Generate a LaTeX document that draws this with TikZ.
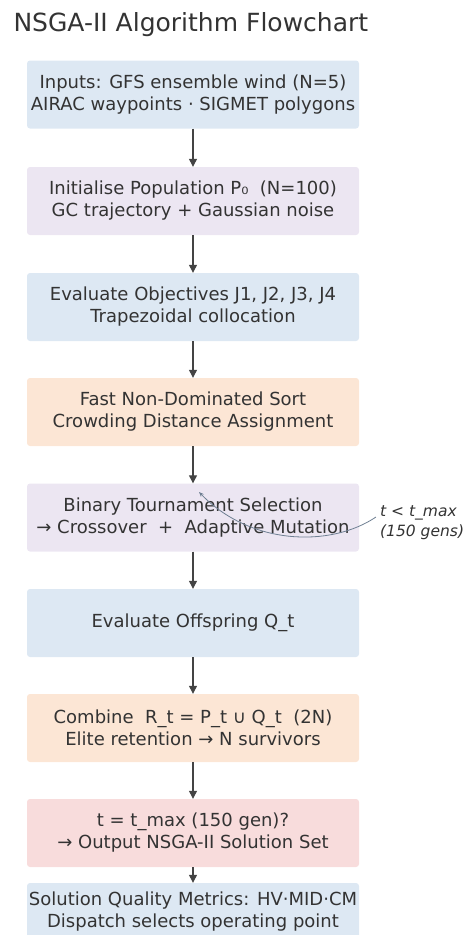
\documentclass[tikz,border=0pt]{standalone}
\usepackage{fontspec}
\setmainfont{DejaVu Sans}
\usetikzlibrary{arrows.meta}
\definecolor{txt}{HTML}{333333}
\definecolor{arr}{HTML}{444444}
\definecolor{fblue}{HTML}{DDE8F3}
\definecolor{flav}{HTML}{ECE6F2}
\definecolor{fpeach}{HTML}{FCE6D5}
\definecolor{fpink}{HTML}{F8DCDC}
\definecolor{loopc}{HTML}{6E7F92}
\tikzset{
  stepbox/.style={rounded corners=3pt, minimum width=332pt, minimum height=68pt,
    align=center, text=txt, font=\fontsize{18}{22}\selectfont, inner sep=0pt},
  flow/.style={draw=arr, line width=1.2pt, -{Triangle[length=8pt,width=8pt]}},
}
\begin{document}
\begin{tikzpicture}[x=1pt,y=-1pt]
\useasboundingbox (0,0) rectangle (471,935);
\node[anchor=west, text=txt, font=\fontsize{25}{30}\selectfont] (title) at (10,25) {NSGA-II Algorithm Flowchart};

\node[stepbox, fill=fblue]  (b1) at (193,94.5) {Inputs: GFS ensemble wind (N=5)\\AIRAC waypoints · SIGMET polygons};
\node[stepbox, fill=flav]   (b2) at (193,201) {Initialise Population P₀ \ (N=100)\\GC trajectory + Gaussian noise};
\node[stepbox, fill=fblue]  (b3) at (193,307) {Evaluate Objectives J1, J2, J3, J4\\Trapezoidal collocation};
\node[stepbox, fill=fpeach] (b4) at (193,412) {Fast Non-Dominated Sort\\Crowding Distance Assignment};
\node[stepbox, fill=flav]   (b5) at (193,517.5) {Binary Tournament Selection\\→ Crossover \ + \ Adaptive Mutation};
\node[stepbox, fill=fblue]  (b6) at (193,623) {Evaluate Offspring Q\_t};
\node[stepbox, fill=fpeach] (b7) at (193,728) {Combine \ R\_t = P\_t ∪ Q\_t \ (2N)\\Elite retention → N survivors};
\node[stepbox, fill=fpink]  (b8) at (193,833) {t = t\_max (150 gen)?\\→ Output NSGA-II Solution Set};
\node[stepbox, fill=fblue, minimum height=58pt] (b9) at (193,912) {Solution Quality Metrics: HV·MID·CM\\Dispatch selects operating point};

\foreach \a/\b in {b1/b2,b2/b3,b3/b4,b4/b5,b5/b6,b6/b7,b7/b8,b8/b9}
  \draw[flow] (\a.south) -- (\b.north);

% loop back while generations remain
\node[anchor=west, text=txt, align=left, font=\fontsize{15.5}{20}\selectfont\itshape, inner sep=0pt] (cond) at (380,523) {t < t\_max\\(150 gens)};
\coordinate (loopstart) at (376,517);
\coordinate (loopend) at (199,492);
\draw[loopc, line width=0.8pt, -{Stealth[length=5pt,width=4pt]}]
  (loopstart) .. controls (330,548) and (250,545) .. (loopend);
\end{tikzpicture}
\end{document}
